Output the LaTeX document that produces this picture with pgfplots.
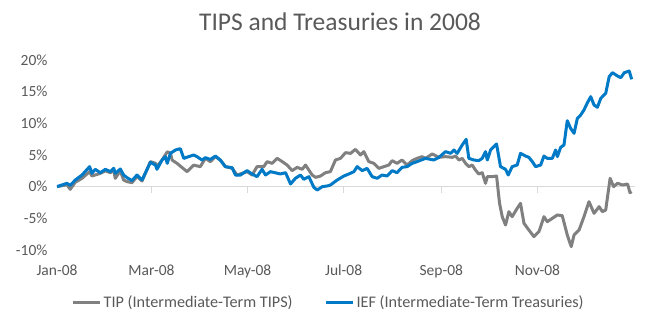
\documentclass[border=0pt]{standalone}
\usepackage{pgfplots}
\pgfplotsset{compat=1.18}
\usepackage{fontspec}
\setmainfont{Carlito}
\definecolor{txtgray}{RGB}{89,89,89}
\definecolor{tipgray}{RGB}{128,128,128}
\definecolor{iefblue}{RGB}{0,122,198}
\definecolor{zeroline}{RGB}{217,217,217}
\begin{document}
\begin{tikzpicture}[x=1pt,y=1pt]
\path[use as bounding box] (0,0) rectangle (646,326);
\node[text=txtgray, font=\fontsize{25.5}{30}\selectfont] at (340,304) {TIPS and Treasuries in 2008};
\begin{axis}[
  at={(57pt,76pt)}, anchor=south west,
  scale only axis, width=578pt, height=190pt,
  xmin=0, xmax=367, ymin=-10, ymax=20,
  axis line style={draw=none},
  major tick length=0pt,
  xtick={0,60,121,182,244,305},
  xticklabels={Jan-08,Mar-08,May-08,Jul-08,Sep-08,Nov-08},
  ytick={-10,-5,0,5,10,15,20},
  yticklabels={-10\%,-5\%,0\%,5\%,10\%,15\%,20\%},
  ticklabel style={text=txtgray, font=\fontsize{15.5}{18}\selectfont},
  xticklabel style={yshift=-11pt},
  yticklabel style={xshift=-6pt},
  legend columns=2,
  legend style={at={(0.470,-0.274)}, anchor=center, draw=none, fill=none,
    font=\fontsize{16.2}{19}\selectfont, text=txtgray,
    /tikz/every even column/.append style={column sep=30pt}},
  legend image code/.code={\draw[#1] (0pt,0pt) -- (27pt,0pt);},
]
\draw[zeroline, line width=1pt] (axis cs:0,0) -- (axis cs:367,0);
\pgfplotsinvokeforeach{0,60,121,182,244,305}{
  \draw[zeroline, line width=1pt] (axis cs:#1,0) -- ++(0pt,-6.5pt);
}
\addplot[tipgray, line width=3pt, line join=round] coordinates {
(0,0) (6.3,0.3) (8.4,-0.42) (11.6,0.7) (15.9,1.32) (20.7,2.37) (22.2,1.68)
(27.5,2.1) (30.7,2.5) (33.9,2.2) (36.0,2.6) (37.0,1.32) (40.2,2.5) (42.3,1.05)
(44.5,0.79) (47.6,0.63) (50.8,1.6) (54.0,0.9) (59.3,3.95) (62.5,3.7) (63.5,3.2)
(66.7,4.2) (70.0,5.5) (72.0,5.3) (73.1,4.2) (76.2,3.68) (82.6,2.37) (86.8,3.4)
(91.0,3.16) (94.2,4.47) (97.4,3.95) (100.6,4.74) (103.7,4.2) (106.9,3.16)
(111.2,2.9) (114.3,1.84) (120.7,2.37) (123.9,1.84) (127.0,3.16) (131.3,3.16)
(133.4,3.95) (136.6,3.68) (139.8,4.47) (143.0,3.95) (146.1,3.42) (149.3,2.53)
(152.5,3.05) (155.7,2.74) (157.8,3.42) (162.0,1.84) (164.2,1.47) (167.3,1.68)
(170.5,2.21) (173.6,2.37) (176.8,4.21) (180.0,4.47) (183.2,5.37) (186.4,5.26)
(189.5,5.89) (192.7,5.0) (194.8,5.53) (198.0,3.95) (201.2,3.68) (204.3,2.89)
(207.5,3.16) (210.7,3.42) (212.8,4.11) (215.9,3.68) (219.1,4.21) (222.3,3.42)
(225.5,4.11) (228.6,4.47) (231.8,4.74) (234.0,4.47) (238.2,5.16) (242.5,4.63)
(246.7,4.74) (251.0,4.63) (253.1,4.84) (255.2,4.21) (257.3,4.47) (259.4,3.68)
(261.5,3.16) (263.6,3.42) (265.7,2.63) (267.8,2.0) (270.0,2.21) (272.1,0.53)
(273.2,1.58) (276.4,1.58) (279.1,1.68) (281.0,-2.63) (282.7,-4.74) (284.8,-6.05)
(286.9,-3.95) (289.0,-4.74) (292.2,-3.42) (294.3,-2.63) (296.5,-5.79) (299.6,-6.84)
(302.8,-7.89) (306.0,-7.11) (309.2,-4.74) (311.3,-5.53) (314.5,-5.0) (317.7,-4.47)
(320.8,-4.58) (324.0,-7.63) (326.5,-9.47) (328.3,-7.63) (331.5,-6.84) (334.6,-4.74)
(337.8,-2.37) (341.0,-4.21) (344.2,-3.16) (346.3,-3.95) (348.4,-3.68) (351.2,1.32)
(353.4,0) (355.9,0.53) (359.1,0.26) (362.3,0.42) (363.8,-0.95) (364.9,-0.79)
};
\addlegendentry{TIP (Intermediate-Term TIPS)}
\addplot[iefblue, line width=3pt, line join=round] coordinates {
(0,0) (6.3,0.53) (8.4,0.2) (11.6,1.05) (15.9,1.84) (20.7,3.16) (22.2,2.1)
(24.3,2.74) (27.5,2.2) (30.7,2.74) (33.9,2.37) (36.0,2.9) (37.0,2.1) (40.2,2.79)
(42.3,1.84) (44.5,1.42) (47.6,0.95) (50.8,1.84) (54.0,1.05) (59.3,3.84) (62.5,3.42)
(63.5,2.74) (66.7,4.2) (68.8,4.74) (70.0,3.68) (72.0,5.26) (75.2,5.79) (78.3,6.0)
(80.5,4.47) (83.6,4.74) (86.8,5.0) (88.9,4.74) (92.1,4.2) (94.2,4.58) (97.4,4.3)
(100.6,4.84) (103.7,4.2) (106.9,3.16) (111.2,3.0) (113.3,1.84) (116.5,1.84)
(120.7,2.53) (123.9,2.0) (127.0,1.58) (130.2,2.74) (132.4,1.84) (135.5,2.37)
(141.9,2.0) (145.1,2.21) (148.3,0.42) (151.4,1.32) (154.6,1.84) (156.7,1.16)
(159.9,1.58) (163.1,-0.11) (165.2,-0.53) (168.4,0) (171.6,0.11) (173.6,0.26)
(177.9,1.05) (182.1,1.68) (185.3,2.0) (188.5,2.37) (190.6,3.16) (193.8,2.53)
(196.9,2.89) (200.1,1.58) (203.3,1.32) (206.4,1.84) (209.6,1.68) (212.8,2.53)
(215.9,2.21) (219.1,3.05) (222.3,3.16) (225.5,3.68) (228.6,3.95) (234.0,4.47)
(239.3,4.21) (242.5,4.63) (246.7,5.53) (249.9,5.26) (252.0,5.79) (254.1,5.26)
(257.3,6.58) (259.8,7.47) (261.5,4.47) (264.7,4.21) (267.8,4.11) (270.0,4.47)
(272.1,5.53) (273.2,4.21) (275.3,5.79) (279.1,6.74) (281.6,3.16) (284.8,2.74)
(286.5,1.84) (289.0,3.16) (292.2,3.42) (294.3,5.26) (297.5,4.84) (299.6,4.63)
(301.8,3.95) (303.9,3.16) (307.1,3.42) (309.2,4.84) (311.3,4.47) (314.5,4.47)
(316.6,5.79) (317.7,4.74) (319.8,6.21) (321.9,6.58) (324.0,10.42) (326.1,9.21)
(328.3,8.42) (330.4,10.79) (332.5,11.32) (334.6,12.11) (336.8,13.26) (338.9,14.21)
(341.0,12.89) (343.1,12.53) (345.3,13.95) (348.4,14.74) (350.6,17.37) (352.7,18.0)
(355.9,17.47) (358.0,17.21) (360.2,18.0) (363.3,18.26) (364.9,16.95)
};
\addlegendentry{IEF (Intermediate-Term Treasuries)}
\end{axis}
\end{tikzpicture}
\end{document}
